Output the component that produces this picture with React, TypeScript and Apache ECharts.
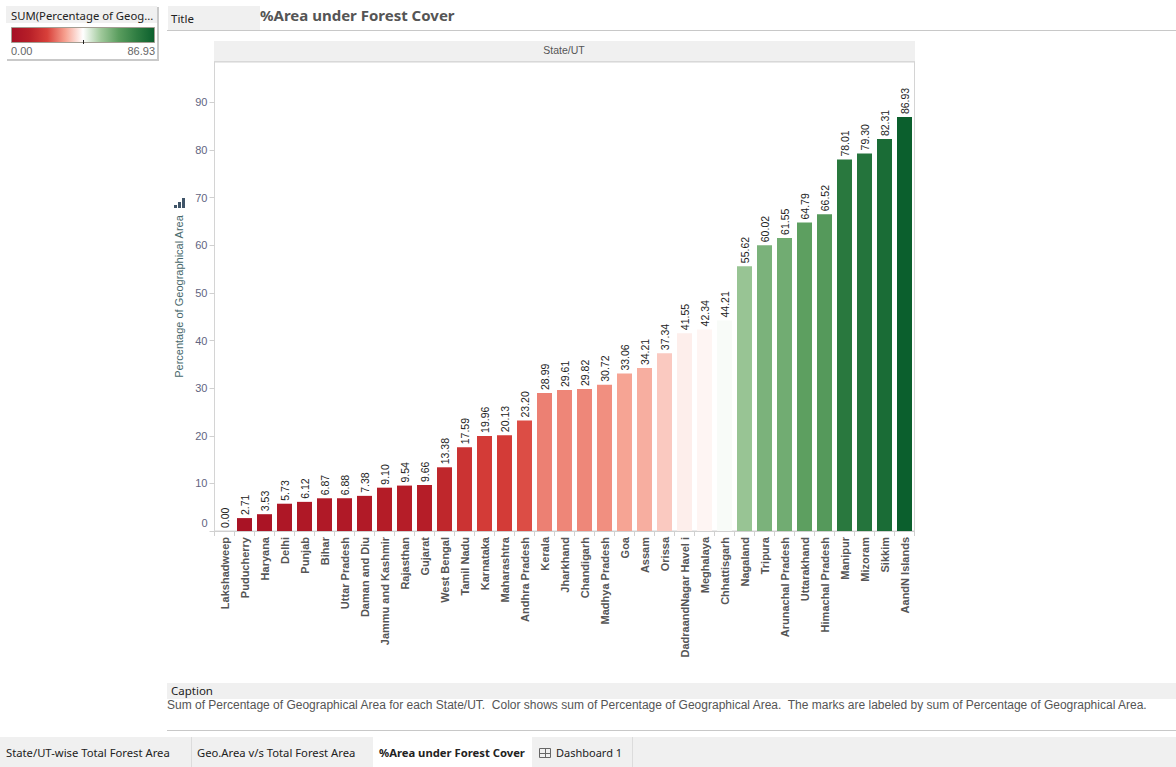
import React, { useEffect, useRef } from "react";
import * as echarts from "echarts";

const categories = ["Lakshadweep","Puducherry","Haryana","Delhi","Punjab","Bihar","Uttar Pradesh","Daman and Diu","Jammu and Kashmir","Rajasthan","Gujarat","West Bengal","Tamil Nadu","Karnataka","Maharashtra","Andhra Pradesh","Kerala","Jharkhand","Chandigarh","Madhya Pradesh","Goa","Assam","Orissa","DadraandNagar Havel i","Meghalaya","Chhattisgarh","Nagaland","Tripura","Arunachal Pradesh","Uttarakhand","Himachal Pradesh","Manipur","Mizoram","Sikkim","AandN Islands"];
const values = [0,2.71,3.53,5.73,6.12,6.87,6.88,7.38,9.10,9.54,9.66,13.38,17.59,19.96,20.13,23.20,28.99,29.61,29.82,30.72,33.06,34.21,37.34,41.55,42.34,44.21,55.62,60.02,61.55,64.79,66.52,78.01,79.30,82.31,86.93];
const colorStops = ["#a50f24","#b71f28","#d8403a","#f6a08f","#ffffff","#a0c99b","#5a9d5e","#2f7d42","#0b5f2d"];
const yTicks = [0,10,20,30,40,50,60,70,80,90];
const tabs = ["State/UT-wise Total Forest Area","Geo.Area v/s Total Forest Area","%Area under Forest Cover","Dashboard 1"];
const legendMin = "0.00";
const legendMax = "86.93";
const legendTitle = "SUM(Percentage of Geog...";
const chartTitle = "%Area under Forest Cover";
const captionText = "Sum of Percentage of Geographical Area for each State/UT.  Color shows sum of Percentage of Geographical Area.  The marks are labeled by sum of Percentage of Geographical Area.";

const ARIAL = "Liberation Sans";
const TAHOMA = "Noto Sans";
const BAND = "#f0f0f0";
const rule = "#c8c8c8";
const YLABEL = "#62647f";

function rect(x: number, y: number, w: number, h: number, fill: any, extra: any = {}) {
  return { type: "rect", silent: true, shape: { x, y, width: w, height: h }, style: { fill, ...extra }, z: 0 };
}
function text(x: number, y: number, t: string, font: any) {
  return { type: "text", silent: true, x, y, z: 5, style: { text: t, textVerticalAlign: "middle", verticalAlign: "middle", ...font } };
}

export default function App() {
  const ref = useRef<HTMLDivElement>(null);
  useEffect(() => {
    const chart = echarts.init(ref.current!, null, { renderer: "svg" });
    const gradient = new echarts.graphic.LinearGradient(0, 0, 1, 0, colorStops.map((color, i) => ({ offset: i / (colorStops.length - 1), color })));
    const graphics: any[] = [
      // legend card
      rect(7, 7, 152, 54, "#c9c9c9"),
      rect(6, 6, 151, 53, "#ffffff"),
      rect(6, 6, 151, 17, BAND),
      text(11, 15, legendTitle, { font: `11.3px ${TAHOMA}`, fill: "#222" }),
      rect(11.5, 27.5, 143, 15, gradient, { stroke: "#a39e93", lineWidth: 1 }),
      rect(83, 40, 1, 4, "#222"),
      text(11, 50.5, legendMin, { font: `11px ${ARIAL}`, fill: "#666" }),
      text(155, 50.5, legendMax, { font: `11px ${ARIAL}`, fill: "#666", align: "right" }),
      // title
      rect(168, 6, 92, 24, BAND),
      rect(167, 30, 1009, 1, rule),
      text(171, 18, "Title", { font: `11.5px ${TAHOMA}`, fill: "#222" }),
      text(260, 15, chartTitle, { font: `bold 15px ${TAHOMA}`, fill: "#555" }),
      // header band
      rect(214, 41, 701, 20, BAND),
      rect(214, 61, 701, 1, "#d8d8d8"),
      text(564, 50, "State/UT", { font: `10.5px ${ARIAL}`, fill: "#555", align: "center" }),
      // axis icon
      rect(174, 205, 3, 3, "#3f5468"),
      rect(178, 202, 3, 6, "#3f5468"),
      rect(182, 198, 3, 10, "#3f5468"),
      // caption
      rect(167, 683, 1009, 16, BAND),
      text(171, 690, "Caption", { font: `11.5px ${TAHOMA}`, fill: "#222" }),
      text(167, 705, captionText, { font: `12px ${ARIAL}`, fill: "#555" }),
      rect(167, 730, 1009, 1, rule),
      // tabs
      rect(0, 737, 1176, 30, BAND),
      rect(191, 737, 1, 30, "#dcdcdc"),
      rect(373, 737, 159, 30, "#ffffff"),
      rect(632, 737, 1, 30, "#dcdcdc"),
      text(6, 752, tabs[0], { font: `11.25px ${TAHOMA}`, fill: "#222" }),
      text(197, 752, tabs[1], { font: `11.25px ${TAHOMA}`, fill: "#222" }),
      text(379, 752, tabs[2], { font: `bold 11.25px ${TAHOMA}`, fill: "#222" }),
      { type: "rect", silent: true, z: 5, shape: { x: 539.5, y: 748.5, width: 11, height: 9 }, style: { fill: "none", stroke: "#666", lineWidth: 1 } },
      rect(545, 749, 1, 9, "#666"),
      rect(540, 753, 11, 1, "#666"),
      text(556, 752, tabs[3], { font: `11px ${TAHOMA}`, fill: "#222" }),
    ];
    chart.setOption({
      animation: false,
      backgroundColor: "#ffffff",
      textStyle: { fontFamily: ARIAL },
      grid: { left: 214.5, top: 62, width: 700, height: 469, show: true, backgroundColor: "transparent", borderColor: "#d4d4d4", borderWidth: 1 },
      visualMap: { show: false, type: "continuous", min: 0, max: 86.93, dimension: 1, seriesIndex: 0, inRange: { color: colorStops } },
      xAxis: {
        type: "category",
        data: categories,
        axisLine: { show: true, lineStyle: { color: "#d0d0d0" } },
        axisTick: { show: true, length: 5, alignWithLabel: false, lineStyle: { color: "#d0d0d0" } },
        axisLabel: { interval: 0, rotate: 90, margin: 6, padding: [0, 0, 2, 0], fontFamily: ARIAL, fontSize: 11, fontWeight: "bold", color: "#555" },
      },
      yAxis: {
        type: "value",
        min: 0,
        max: 98.5,
        interval: 10,
        name: "Percentage of Geographical Area",
        nameLocation: "middle",
        nameGap: 30,
        nameRotate: 90,
        nameTextStyle: { fontFamily: ARIAL, fontSize: 11, color: "#47686c" },
        axisLine: { show: false },
        axisTick: { show: true, length: 5, customValues: yTicks, lineStyle: { color: "#d0d0d0" } },
        splitLine: { show: false },
        axisLabel: {
          margin: 7,
          customValues: yTicks,
          fontFamily: ARIAL,
          fontSize: 11,
          color: YLABEL,
          verticalAlignMinLabel: "bottom",
          formatter: (v: number) => (v === 0 ? "{zero|0}" : String(v)),
          rich: { zero: { fontFamily: ARIAL, fontSize: 11, color: YLABEL, padding: [0, 0, 3, 0] } },
        },
      },
      series: [{
        type: "bar",
        data: values,
        barWidth: 15,
        label: { show: true, position: "top", rotate: 90, distance: 4, offset: [-1, 0], align: "left", verticalAlign: "middle", fontFamily: ARIAL, fontSize: 10.5, color: "#222", formatter: (p: any) => p.value.toFixed(2) },
      }],
      graphic: { elements: graphics },
    });
    return () => chart.dispose();
  }, []);
  return <div ref={ref} style={{ position: "fixed", left: 0, top: 0, width: 1176, height: 767 }} />;
}
